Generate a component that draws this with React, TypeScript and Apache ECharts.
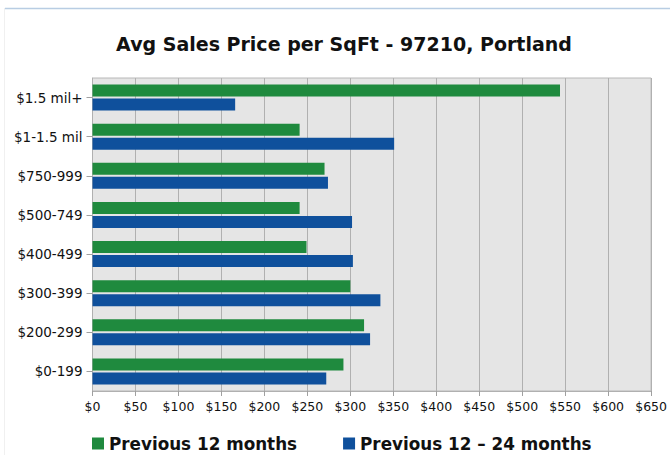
import React, { useEffect, useRef } from "react";
import * as echarts from "echarts";

const categories = ["$0-199", "$200-299", "$300-399", "$400-499", "$500-749", "$750-999", "$1-1.5 mil", "$1.5 mil+"];
const prev12 = [292, 316, 300, 249, 241, 270, 241, 544];
const prev12to24 = [272, 323, 335, 303, 302, 274, 351, 166];
const seriesNames = ["Previous 12 months", "Previous 12 \u2013 24 months"];

const FONT = "DejaVu Sans, Liberation Sans, Arial, sans-serif";

export default function App() {
  const ref = useRef<HTMLDivElement>(null);
  useEffect(() => {
    const chart = echarts.init(ref.current!, null, { renderer: "svg" });
    chart.setOption({
      animation: false,
      backgroundColor: "#ffffff",
      textStyle: { fontFamily: FONT },
      title: {
        text: "Avg Sales Price per SqFt - 97210, Portland",
        left: 339,
        textAlign: "center",
        top: 29,
        textStyle: { fontSize: 19, fontWeight: "bold", color: "#111", fontFamily: FONT },
      },
      graphic: [
        { type: "line", shape: { x1: 5, y1: 8.5, x2: 670, y2: 8.5 }, style: { stroke: "#b8cde3", lineWidth: 1.5 } },
        { type: "line", shape: { x1: 4.5, y1: 8, x2: 4.5, y2: 455 }, style: { stroke: "#f0f0f0", lineWidth: 1 } },
      ],
      legend: {
        left: 87,
        top: 430,
        itemWidth: 12,
        itemHeight: 12,
        itemGap: 46,
        icon: "rect",
        textStyle: { fontSize: 16.8, fontWeight: "bold", color: "#111", fontFamily: FONT },
        data: seriesNames,
      },
      grid: {
        left: 92.5,
        right: 6,
        top: 78,
        bottom: 64,
        show: true,
        backgroundColor: "#e5e5e5",
        borderColor: "#b8b8b8",
        borderWidth: 1,
      },
      xAxis: {
        type: "value",
        min: 0,
        max: 650,
        interval: 50,
        axisLine: { show: true, lineStyle: { color: "#b0b0b0" } },
        axisTick: { show: true, length: 5, lineStyle: { color: "#a0a0a0" } },
        splitLine: { show: true, lineStyle: { color: "#b0b0b0" } },
        axisLabel: { formatter: (v: number) => "$" + v, fontSize: 12.5, color: "#111", margin: 9, fontFamily: FONT },
      },
      yAxis: {
        type: "category",
        data: categories,
        axisLine: { show: true, lineStyle: { color: "#b0b0b0" } },
        axisTick: { show: true, alignWithLabel: true, length: 6, lineStyle: { color: "#a0a0a0" } },
        axisLabel: { fontSize: 13.5, color: "#111", margin: 10, fontFamily: FONT },
      },
      series: [
        {
          name: seriesNames[0],
          type: "bar",
          data: prev12,
          barWidth: 12,
          barGap: "17%",
          itemStyle: { color: "#1f8a3e" },
        },
        {
          name: seriesNames[1],
          type: "bar",
          data: prev12to24,
          barWidth: 12,
          barGap: "17%",
          itemStyle: { color: "#0f509c" },
        },
      ],
    });
    return () => chart.dispose();
  }, []);
  return <div ref={ref} style={{ width: 670, height: 455, position: "absolute", left: 0, top: 0 }} />;
}
